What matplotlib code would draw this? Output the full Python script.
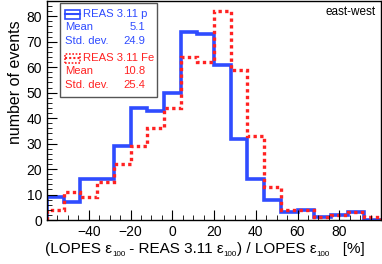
import numpy as np
import matplotlib
matplotlib.use('Agg')
import matplotlib.pyplot as plt
from matplotlib.patches import Rectangle
from matplotlib.lines import Line2D

plt.rcParams['font.family'] = ['Liberation Sans', 'DejaVu Sans']

# bin edges in %
edges = np.arange(-60, 101, 8)
counts_p = [9, 7, 16, 16, 29, 44, 43, 50, 74, 73, 61, 32, 16, 8, 3, 4, 1, 2, 3, 0]
counts_fe = [4, 11, 9, 15, 22, 29, 36, 44, 64, 62, 82, 59, 33, 13, 4, 4, 1, 2, 3, 1]

label_p = 'REAS 3.11 p'
label_fe = 'REAS 3.11 Fe'
stats_p = [('Mean', '5.1'), ('Std. dev.', '24.9')]
stats_fe = [('Mean', '10.8'), ('Std. dev.', '25.4')]

# x title pieces: (text, is_subscript)
xtitle = [('(LOPES ε', False), ('100', True), (' - REAS 3.11 ε', False), ('100', True),
          (') / LOPES ε', False), ('100', True), ('   [%]', False)]

blue = '#2f4cff'
red = '#ff2222'

W, H = 382, 264
fig = plt.figure(figsize=(W / 100, H / 100), dpi=100)


def fx(px):
    return px / W


def fy(py):
    return 1 - py / H


ax = fig.add_axes([fx(47), fy(220), fx(381) - fx(47), fy(1) - fy(220)])
ax.stairs(counts_p, edges, color=blue, lw=2.6)
ax.stairs(counts_fe, edges, color=red, lw=2.4, linestyle=(0, (1, 1)))

ax.set_xlim(-60, 100)
ax.set_ylim(0, 86)
ax.set_xticks(np.arange(-40, 100, 20))
ax.set_xticks(np.arange(-60, 101, 5), minor=True)
ax.set_yticks(np.arange(0, 81, 10))
ax.set_yticks(np.arange(0, 86, 2), minor=True)
ax.tick_params(which='both', direction='in', top=False, right=False, labelsize=10)
ax.tick_params(which='major', length=7)
ax.tick_params(which='minor', length=3.5)
for s in ax.spines.values():
    s.set_linewidth(1.0)

# titles aligned to the axis ends, ROOT style
fig.text(fx(16), fy(20), 'number of events', rotation=90, fontsize=11.5,
         ha='center', va='top')

renderer = fig.canvas.get_renderer()
x0 = 45
for txt, sub in xtitle:
    if sub:
        t = fig.text(fx(x0), fy(256), txt, fontsize=5.8, ha='left', va='baseline')
    else:
        t = fig.text(fx(x0), fy(253), txt, fontsize=11, ha='left', va='baseline')
    x0 = t.get_window_extent(renderer).x1

ax.text(0.985, 0.95, 'east-west', transform=ax.transAxes, ha='right', va='center', fontsize=8.5)

# legend box drawn by hand
fig.patches.append(Rectangle((fx(60), fy(97)), fx(157) - fx(60), fy(3) - fy(97),
                             transform=fig.transFigure, fill=True, facecolor='white',
                             edgecolor='#555555', lw=1.0, zorder=5))

rows = [(label_p, stats_p, blue, '-', 14), (label_fe, stats_fe, red, (0, (1, 1)), 58)]
for name, stats, col, ls, y0 in rows:
    fig.patches.append(Rectangle((fx(65), fy(y0 + 4.5)), fx(80) - fx(65), fy(y0 - 4.5) - fy(y0 + 4.5),
                                 transform=fig.transFigure, fill=False, edgecolor=col,
                                 lw=1.2, linestyle=ls, zorder=6))
    fig.lines.append(Line2D([fx(65), fx(80)], [fy(y0), fy(y0)], transform=fig.transFigure,
                            color=col, lw=1.5, linestyle=ls, zorder=6))
    fig.text(fx(83), fy(y0), name, color=col, fontsize=8.1, va='center', ha='left', zorder=7)
    for i, (k, v) in enumerate(stats):
        yy = y0 + 13 + 14.5 * i
        fig.text(fx(65), fy(yy), k, color=col, fontsize=8.1, va='center', ha='left', zorder=7)
        fig.text(fx(145), fy(yy), v, color=col, fontsize=8.1, va='center', ha='right', zorder=7)

fig.savefig('out.png', dpi=100)
